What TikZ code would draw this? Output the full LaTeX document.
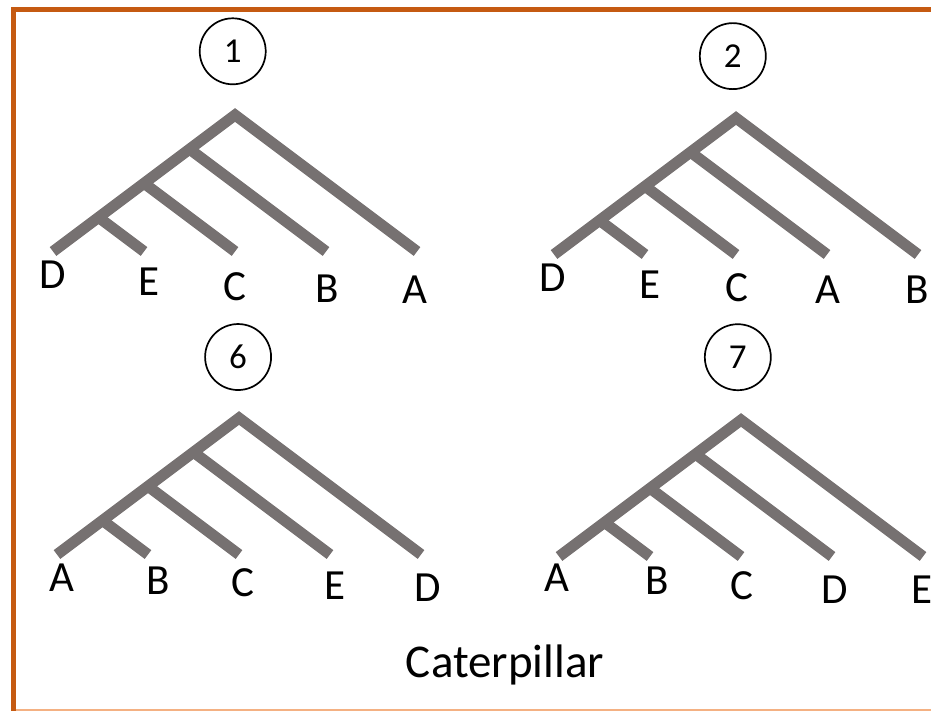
\documentclass[tikz,border=0pt]{standalone}
\usepackage{fontspec}
\setmainfont{Carlito}
\usepackage{xcolor}
\definecolor{FrameOrange}{HTML}{C55A11}
\definecolor{FrameLight}{HTML}{F4B183}
\definecolor{TreeGray}{HTML}{767171}
\usepackage{tikz}
\usetikzlibrary{positioning}

\begin{document}
\begin{tikzpicture}[
  x=1pt, y=-1pt,
  branch/.style={draw=TreeGray, line width=11pt, line cap=butt, line join=miter},
  taxon/.style={font=\fontsize{43}{50}\selectfont, inner sep=0pt, anchor=center},
  treeno/.style={draw=black, circle, line width=1.7pt, minimum size=66pt,
                 inner sep=0pt, font=\fontsize{35}{42}\selectfont},
]
\useasboundingbox (0,0) rectangle (931,711);

% frame
\draw[FrameOrange, line width=5pt, line join=miter] (940,9.5) -- (13.5,9.5) -- (13.5,711);
\draw[FrameLight, line width=1.5pt] (16,710) -- (931,710);

% tree 1
\begin{scope}[shift={(235,115)}, x=45.5pt, y=-45.5pt]
\coordinate (root1) at (0,0);
\coordinate (n1a) at (-1,0.75);
\coordinate (n1b) at (-2,1.5);
\coordinate (n1c) at (-3,2.25);
\coordinate (leaf1a) at (-4,3);
\coordinate (leaf1b) at (-2,3);
\coordinate (leaf1c) at (0,3);
\coordinate (leaf1d) at (2,3);
\coordinate (leaf1e) at (4,3);
\draw[branch] (leaf1a) -- (root1) -- (leaf1e);
\draw[branch] (n1c) -- (leaf1b);
\draw[branch] (n1b) -- (leaf1c);
\draw[branch] (n1a) -- (leaf1d);
\node[treeno] (no1) at (-0.05,-1.4) {1};
\node[taxon] (D1) at (-4,3.52) {D};
\node[taxon] (E1) at (-1.9,3.66) {E};
\node[taxon] (C1) at (0,3.78) {C};
\node[taxon] (B1) at (2.02,3.81) {B};
\node[taxon] (A1) at (3.95,3.83) {A};
\end{scope}

% tree 2
\begin{scope}[shift={(736,118)}, x=45.5pt, y=-45.5pt]
\coordinate (root2) at (0,0);
\coordinate (n2a) at (-1,0.75);
\coordinate (n2b) at (-2,1.5);
\coordinate (n2c) at (-3,2.25);
\coordinate (leaf2a) at (-4,3);
\coordinate (leaf2b) at (-2,3);
\coordinate (leaf2c) at (0,3);
\coordinate (leaf2d) at (2,3);
\coordinate (leaf2e) at (4,3);
\draw[branch] (leaf2a) -- (root2) -- (leaf2e);
\draw[branch] (n2c) -- (leaf2b);
\draw[branch] (n2b) -- (leaf2c);
\draw[branch] (n2a) -- (leaf2d);
\node[treeno] (no2) at (-0.07,-1.36) {2};
\node[taxon] (D2) at (-4.02,3.51) {D};
\node[taxon] (E2) at (-1.9,3.66) {E};
\node[taxon] (C2) at (0.02,3.73) {C};
\node[taxon] (A2) at (2.02,3.78) {A};
\node[taxon] (B2) at (3.98,3.78) {B};
\end{scope}

% tree 6
\begin{scope}[shift={(239,418)}, x=45.5pt, y=-45.5pt]
\coordinate (root6) at (0,0);
\coordinate (n6a) at (-1,0.75);
\coordinate (n6b) at (-2,1.5);
\coordinate (n6c) at (-3,2.25);
\coordinate (leaf6a) at (-4,3);
\coordinate (leaf6b) at (-2,3);
\coordinate (leaf6c) at (0,3);
\coordinate (leaf6d) at (2,3);
\coordinate (leaf6e) at (4,3);
\draw[branch] (leaf6a) -- (root6) -- (leaf6e);
\draw[branch] (n6c) -- (leaf6b);
\draw[branch] (n6b) -- (leaf6c);
\draw[branch] (n6a) -- (leaf6d);
\node[treeno] (no6) at (-0.02,-1.34) {6};
\node[taxon] (A6) at (-3.9,3.51) {A};
\node[taxon] (B6) at (-1.77,3.58) {B};
\node[taxon] (C6) at (0.09,3.63) {C};
\node[taxon] (E6) at (2.1,3.69) {E};
\node[taxon] (D6) at (4.15,3.73) {D};
\end{scope}

% tree 7
\begin{scope}[shift={(741,420)}, x=45.5pt, y=-45.5pt]
\coordinate (root7) at (0,0);
\coordinate (n7a) at (-1,0.75);
\coordinate (n7b) at (-2,1.5);
\coordinate (n7c) at (-3,2.25);
\coordinate (leaf7a) at (-4,3);
\coordinate (leaf7b) at (-2,3);
\coordinate (leaf7c) at (0,3);
\coordinate (leaf7d) at (2,3);
\coordinate (leaf7e) at (4,3);
\draw[branch] (leaf7a) -- (root7) -- (leaf7e);
\draw[branch] (n7c) -- (leaf7b);
\draw[branch] (n7b) -- (leaf7c);
\draw[branch] (n7a) -- (leaf7d);
\node[treeno] (no7) at (-0.07,-1.38) {7};
\node[taxon] (A7) at (-4.04,3.46) {A};
\node[taxon] (B7) at (-1.85,3.54) {B};
\node[taxon] (C7) at (0.02,3.65) {C};
\node[taxon] (D7) at (2.06,3.73) {D};
\node[taxon] (E7) at (3.98,3.73) {E};
\end{scope}

\node[font=\fontsize{47}{56}\selectfont, inner sep=0pt, anchor=base] (kind) at (505,677) {Caterpillar};
\end{tikzpicture}
\end{document}
